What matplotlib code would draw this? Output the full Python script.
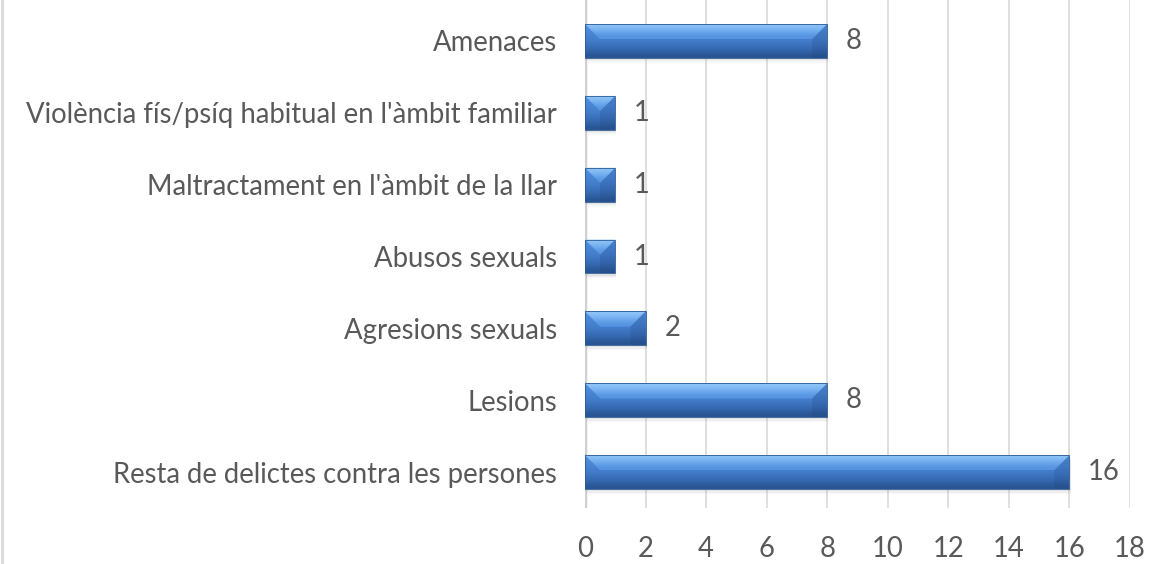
import numpy as np
import matplotlib
matplotlib.use('Agg')
import matplotlib.pyplot as plt
from matplotlib.patches import Polygon, Rectangle

plt.rcParams['font.family'] = ['Lato', 'DejaVu Sans']

categories = [
    'Resta de delictes contra les persones',
    'Lesions',
    'Agresions sexuals',
    'Abusos sexuals',
    "Maltractament en l'àmbit de la llar",
    "Violència fís/psíq habitual en l'àmbit familiar",
    'Amenaces',
]
values = [16, 8, 2, 1, 1, 1, 8]
xticks = [0, 2, 4, 6, 8, 10, 12, 14, 16, 18]

text_color = '#595959'
bar_h = 0.47
fs = 19.8

fig = plt.figure(figsize=(11.75, 5.64), dpi=100)
ax = fig.add_axes([585 / 1175, 1 - 508 / 564, (1130 - 585) / 1175, 508 / 564])

ypos = np.arange(len(categories))
ax.set_xlim(0, 18)
ax.set_ylim(-0.5, len(categories) - 0.5 + 0.07)

# vertical gradients (top -> bottom)
face = np.array([
    [0.31, 0.55, 0.86],
    [0.29, 0.53, 0.84],
    [0.27, 0.50, 0.81],
    [0.24, 0.46, 0.76],
    [0.21, 0.41, 0.69],
    [0.16, 0.33, 0.57],
])[:, None, :]
topf = np.array([
    [0.56, 0.77, 0.97],
    [0.43, 0.67, 0.93],
    [0.33, 0.57, 0.88],
])[:, None, :]


def grad_fill(img, verts, z=3):
    xs = [p[0] for p in verts]
    ys = [p[1] for p in verts]
    im = ax.imshow(img, extent=[min(xs), max(xs), min(ys), max(ys)], aspect='auto',
                   zorder=z, interpolation='bicubic', origin='upper')
    poly = Polygon(verts, closed=True, transform=ax.transData)
    im.set_clip_path(poly)


for y, v in zip(ypos, values):
    top = y + bar_h / 2
    bot = y - bar_h / 2
    # soft shadow
    for k, a in zip([0.07, 0.05, 0.03], [0.05, 0.07, 0.10]):
        ax.add_patch(Rectangle((0.04, bot - k), v, bar_h, facecolor='gray', alpha=a,
                               edgecolor='none', zorder=2))
    grad_fill(face, [(0, bot), (v, bot), (v, top), (0, top)])
    bx = min(0.5, v / 2)
    d = bar_h * 0.45
    grad_fill(topf, [(0, top), (v, top), (v - bx, top - d), (bx, top - d)])
    # right end facet a bit darker
    ax.add_patch(Polygon([(v, top), (v - bx, top - d), (v - bx, bot), (v, bot)],
                         closed=True, facecolor='#1c3f74', alpha=0.18,
                         edgecolor='none', zorder=4))
    ax.add_patch(Rectangle((0, bot), v, bar_h, facecolor='none',
                           edgecolor='#2e5a96', linewidth=0.6, zorder=5))
    ax.text(v + 0.62, y, str(v), va='center', ha='left', fontsize=fs,
            color=text_color, zorder=6)

ax.set_yticks(ypos)
ax.set_yticklabels(categories)
ax.set_xticks(xticks)
ax.tick_params(axis='y', length=0, pad=20, labelsize=fs, labelcolor=text_color)
ax.tick_params(axis='x', length=0, pad=20, labelsize=fs, labelcolor=text_color)
ax.grid(axis='x', color='#d9d9d9', linewidth=1.2, zorder=0)
ax.set_axisbelow(True)
for s in ax.spines.values():
    s.set_visible(False)
ax.axvline(0, color='#d0d0d0', linewidth=2.5, zorder=1)

# thin frame line at the left edge of the image
fig.add_artist(plt.Line2D([0.002, 0.002], [0, 1], color='#d9d9d9', linewidth=2,
                          transform=fig.transFigure))

fig.savefig('out.png', dpi=100)
